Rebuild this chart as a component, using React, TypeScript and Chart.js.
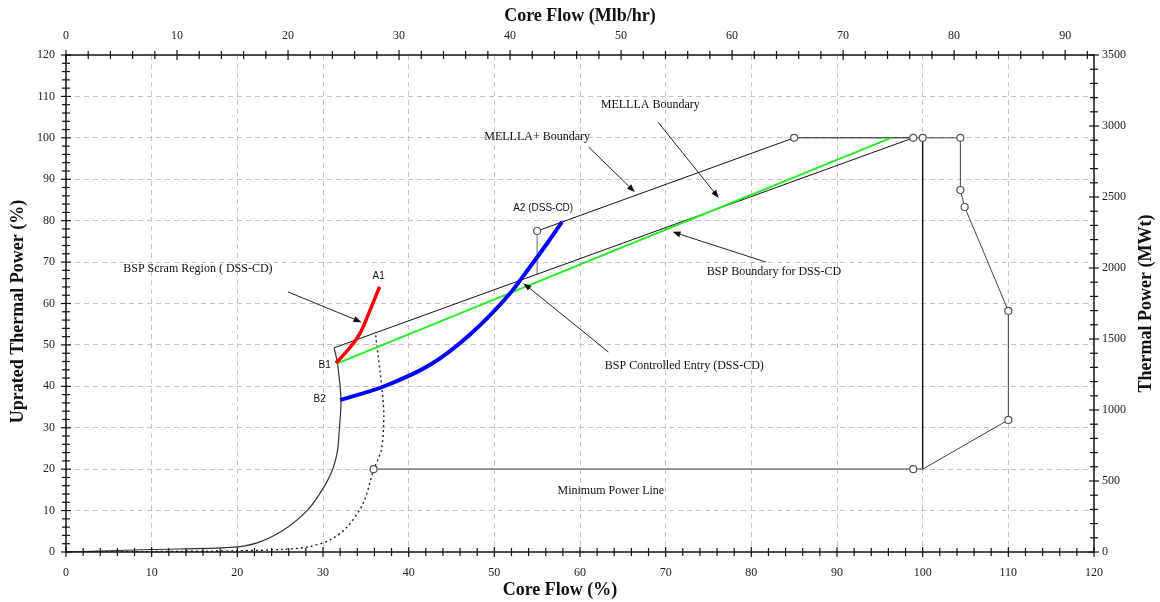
import React, { useEffect, useRef } from "react";
import { Chart, registerables } from "chart.js";
Chart.register(...registerables);

// ---- Data (Core Flow %, Uprated Thermal Power %) ----
const leftBoundaryCurve = [
  [0, 0], [10, 0.6], [19.2, 1.1], [22.3, 2.2], [25.4, 5.3], [28.2, 10.1], [29.9, 15.0],
  [31.1, 19.8], [31.7, 24.6], [31.9, 29.5], [32.1, 36.7], [31.7, 45.4], [31.3, 49.3],
];
const dottedCurve = [
  [0, 0], [10, 0.1], [20, 0.3], [25, 0.6], [28.2, 1.2], [30.8, 2.9], [32.8, 6.0], [34.7, 11.8],
  [35.9, 19.8], [36.8, 24.6], [37.1, 32.6], [36.9, 39.1], [36.1, 53.1],
];
const mellaBoundary = [[31.3, 49.3], [98.9, 100]];
const mellaPlusBoundary = [[55, 77.5], [85, 100], [98.9, 100], [100, 100]];
const a2Riser = [[55, 67.1], [55, 77.5]];
const minimumPowerLine = [[35.9, 20], [100, 20]];
const maxFlowLine = [[100, 100], [100, 20]];
const highFlowBoundary = [[100, 20], [110, 31.9], [110, 58.2], [104.9, 83.3], [104.4, 87.4], [104.4, 100], [100, 100]];
const bspBoundaryDSSCD = [[31.6, 45.5], [96.3, 100]];
const scramRegionA1 = [[31.5, 45.6], [33.2, 49.5], [34.35, 52.9], [35.5, 58.4], [36.6, 64.0]];
const controlledEntryB2A2 = [[32.0, 36.7], [37.0, 39.9], [42.5, 45.2], [47.2, 52.6], [51.9, 62.6], [53.9, 68.1], [56.2, 74.6], [57.9, 79.7]];
const markerPoints = [
  [35.9, 20], [98.9, 20], [55, 77.5], [85, 100], [98.9, 100], [100, 100], [104.4, 100],
  [104.4, 87.4], [104.9, 83.3], [110, 58.2], [110, 31.9],
];

// Axes
const bottomTicks = { min: 0, max: 120, step: 10, minor: 2 };
const leftTicks = { min: 0, max: 120, step: 10, minor: 2 };
const topTicks = { min: 0, max: 92.6, step: 10, minor: 2 };
const topTickLabels = [0, 10, 20, 30, 40, 50, 60, 70, 80, 90];
const rightTicks = { min: 0, max: 3500, step: 500, minor: 100 };

// Annotations (data coords)
const textLabels = [
  { text: "MELLLA Boundary", x: 68.2, y: 107.9, align: "center", serif: true },
  { text: "MELLLA+ Boundary", x: 55.0, y: 100.2, align: "center", serif: true },
  { text: "A2 (DSS-CD)", x: 55.7, y: 83.1, align: "center", serif: false },
  { text: "BSP Boundary for DSS-CD", x: 74.8, y: 67.6, align: "left", serif: true },
  { text: "BSP Scram Region ( DSS-CD)", x: 15.4, y: 68.3, align: "center", serif: true },
  { text: "A1", x: 36.5, y: 66.6, align: "center", serif: false },
  { text: "B1", x: 30.2, y: 45.2, align: "center", serif: false },
  { text: "B2", x: 29.6, y: 36.9, align: "center", serif: false },
  { text: "BSP Controlled Entry (DSS-CD)", x: 62.9, y: 44.9, align: "left", serif: true },
  { text: "Minimum Power Line", x: 63.6, y: 14.7, align: "center", serif: true },
];
const arrows = [
  [69.1, 103.8, 76.2, 85.5],
  [61.0, 97.8, 66.4, 86.9],
  [81.7, 70.0, 70.8, 77.3],
  [25.9, 62.8, 34.5, 55.5],
  [63.3, 48.3, 53.4, 64.9],
];

const pts = (a: number[][]) => a.map(([x, y]) => ({ x, y }));
const SERIF = "'Liberation Serif', 'DejaVu Serif', serif";
const SANS = "'Liberation Sans', Arial, sans-serif";

const overlayPlugin = {
  id: "overlay",
  afterDatasetsDraw(chart: any) {
    const ctx = chart.ctx;
    const x = chart.scales.x, y = chart.scales.y, x2 = chart.scales.x2, y2 = chart.scales.y2;
    const { left, right, top, bottom } = chart.chartArea;
    ctx.save();
    // frame
    ctx.strokeStyle = "#111";
    ctx.lineWidth = 1.5;
    ctx.strokeRect(left, top, right - left, bottom - top);
    ctx.lineWidth = 1.2;
    const tick = (x1: number, y1: number, x2_: number, y2_: number) => {
      ctx.beginPath(); ctx.moveTo(x1, y1); ctx.lineTo(x2_, y2_); ctx.stroke();
    };
    for (let v = bottomTicks.min; v <= bottomTicks.max + 1e-9; v += bottomTicks.minor) {
      const p = x.getPixelForValue(v); const l = v % 10 === 0 ? 5 : 4;
      tick(p, bottom - l, p, bottom + l);
    }
    for (let v = leftTicks.min; v <= leftTicks.max + 1e-9; v += leftTicks.minor) {
      const p = y.getPixelForValue(v); const l = v % 10 === 0 ? 5 : 4;
      tick(left - l, p, left + l, p);
    }
    for (let v = topTicks.min; v <= topTicks.max + 1e-9; v += topTicks.minor) {
      const p = x2.getPixelForValue(v); const l = v % 10 === 0 ? 5 : 4;
      tick(p, top - l, p, top + l);
    }
    for (let v = rightTicks.min; v <= rightTicks.max + 1e-9; v += rightTicks.minor) {
      const p = y2.getPixelForValue(v); const l = v % 500 === 0 ? 5 : 4;
      tick(right - l, p, right + l, p);
    }
    // arrows
    ctx.strokeStyle = "#222";
    ctx.fillStyle = "#111";
    ctx.lineWidth = 1;
    for (const [ax, ay, bx, by] of arrows) {
      const sx = x.getPixelForValue(ax), sy = y.getPixelForValue(ay);
      const ex = x.getPixelForValue(bx), ey = y.getPixelForValue(by);
      const ang = Math.atan2(ey - sy, ex - sx);
      const hl = 8, hw = 3;
      ctx.beginPath(); ctx.moveTo(sx, sy);
      ctx.lineTo(ex - Math.cos(ang) * hl * 0.8, ey - Math.sin(ang) * hl * 0.8); ctx.stroke();
      ctx.beginPath();
      ctx.moveTo(ex, ey);
      ctx.lineTo(ex - Math.cos(ang) * hl - Math.sin(ang) * hw, ey - Math.sin(ang) * hl + Math.cos(ang) * hw);
      ctx.lineTo(ex - Math.cos(ang) * hl + Math.sin(ang) * hw, ey - Math.sin(ang) * hl - Math.cos(ang) * hw);
      ctx.closePath(); ctx.fill();
    }
    // text labels
    ctx.fillStyle = "#111";
    ctx.textBaseline = "middle";
    for (const t of textLabels) {
      ctx.font = t.serif ? `12px ${SERIF}` : `10px ${SANS}`;
      ctx.textAlign = t.align;
      ctx.fillText(t.text, x.getPixelForValue(t.x), y.getPixelForValue(t.y));
    }
    // axis titles
    ctx.font = `bold 18px ${SERIF}`;
    ctx.textAlign = "center";
    ctx.fillStyle = "#111";
    ctx.fillText("Core Flow (Mlb/hr)", (left + right) / 2, 16);
    ctx.fillText("Core Flow (%)", (left + right) / 2 - 20, 590);
    ctx.save();
    ctx.translate(18, (top + bottom) / 2 + 8);
    ctx.rotate(-Math.PI / 2);
    ctx.fillText("Uprated Thermal Power (%)", 0, 0);
    ctx.restore();
    ctx.save();
    ctx.translate(1146, (top + bottom) / 2);
    ctx.rotate(-Math.PI / 2);
    ctx.fillText("Thermal Power (MWt)", 0, 0);
    ctx.restore();
    ctx.restore();
  },
};

export default function App() {
  const ref = useRef<HTMLCanvasElement>(null);
  useEffect(() => {
    if (!ref.current) return;
    const line = (data: number[][], color: string, width: number, extra: any = {}) => ({
      data: pts(data), showLine: true, borderColor: color, borderWidth: width,
      pointRadius: 0, pointHoverRadius: 0, tension: 0, fill: false, ...extra,
    });
    const gridColor = (c: any) =>
      c.tick && (c.tick.value === 0 || c.tick.value === 120) ? "rgba(0,0,0,0)" : "#c4c4c4";
    const tickFont = { family: SERIF, size: 12 };
    const chart = new Chart(ref.current, {
      type: "scatter",
      data: {
        datasets: [
          {
            data: pts(markerPoints), showLine: false, pointRadius: 3.5, pointStyle: "circle",
            pointBackgroundColor: "#fff", pointBorderColor: "#555", pointBorderWidth: 1.2,
          },
          line(controlledEntryB2A2, "#0000ff", 4, { cubicInterpolationMode: "monotone" }),
          line(scramRegionA1, "#ff0000", 3.5, { cubicInterpolationMode: "monotone" }),
          line(bspBoundaryDSSCD, "#22ee22", 2),
          line(leftBoundaryCurve, "#333", 1.2, { tension: 0.3 }),
          line(dottedCurve, "#222", 1.4, { tension: 0.3, borderDash: [2, 3] }),
          line(mellaBoundary, "#111", 1),
          line(mellaPlusBoundary, "#111", 1),
          line(a2Riser, "#888", 1.3),
          line(minimumPowerLine, "#888", 1.6),
          line(maxFlowLine, "#111", 1.4),
          line(highFlowBoundary, "#444", 1),
        ] as any,
      },
      options: {
        responsive: false,
        animation: false,
        devicePixelRatio: 1,
        layout: { padding: 0 },
        plugins: { legend: { display: false }, tooltip: { enabled: false } },
        scales: {
          x: {
            type: "linear", position: "bottom", min: bottomTicks.min, max: bottomTicks.max,
            ticks: { stepSize: bottomTicks.step, font: tickFont, color: "#222", padding: 14, maxRotation: 0 },
            grid: { color: gridColor, drawTicks: false, lineWidth: 1 },
            border: { display: false, dash: [5, 4] },
            afterFit: (s: any) => { s.height = 50; },
          },
          x2: {
            type: "linear", position: "top", min: topTicks.min, max: topTicks.max,
            ticks: { stepSize: topTicks.step, font: tickFont, color: "#222", padding: 12, maxRotation: 0, includeBounds: false },
            afterBuildTicks: (s: any) => { s.ticks = topTickLabels.map((value) => ({ value })); },
            grid: { display: false, drawTicks: false },
            border: { display: false },
            afterFit: (s: any) => { s.height = 55; },
          },
          y: {
            type: "linear", position: "left", min: leftTicks.min, max: leftTicks.max,
            ticks: { stepSize: leftTicks.step, font: tickFont, color: "#222", padding: 11 },
            grid: { color: gridColor, drawTicks: false, lineWidth: 1 },
            border: { display: false, dash: [5, 4] },
            afterFit: (s: any) => { s.width = 66; },
          },
          y2: {
            type: "linear", position: "right", min: rightTicks.min, max: rightTicks.max,
            ticks: { stepSize: rightTicks.step, font: tickFont, color: "#222", padding: 8, callback: (v: any) => String(v) },
            grid: { display: false, drawTicks: false },
            border: { display: false },
            afterFit: (s: any) => { s.width = 66; },
          },
        },
      } as any,
      plugins: [overlayPlugin as any],
    });
    return () => chart.destroy();
  }, []);
  return (
    <div style={{ position: "fixed", left: 0, top: 0, width: 1160, height: 602, background: "#fff" }}>
      <canvas ref={ref} width={1160} height={602} style={{ width: 1160, height: 602, display: "block" }} />
    </div>
  );
}
